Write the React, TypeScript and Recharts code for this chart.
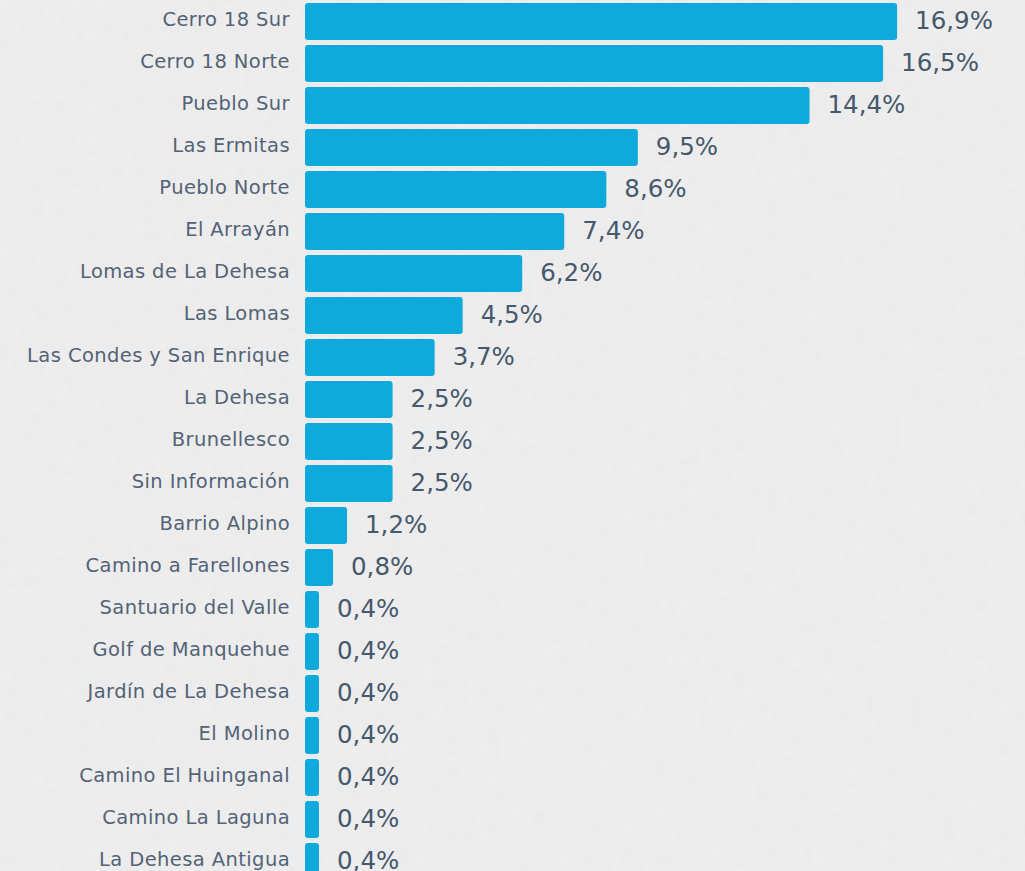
import { BarChart, Bar, XAxis, YAxis, LabelList } from 'recharts';

const barrios = [
  'Cerro 18 Sur',
  'Cerro 18 Norte',
  'Pueblo Sur',
  'Las Ermitas',
  'Pueblo Norte',
  'El Arrayán',
  'Lomas de La Dehesa',
  'Las Lomas',
  'Las Condes y San Enrique',
  'La Dehesa',
  'Brunellesco',
  'Sin Información',
  'Barrio Alpino',
  'Camino a Farellones',
  'Santuario del Valle',
  'Golf de Manquehue',
  'Jardín de La Dehesa',
  'El Molino',
  'Camino El Huinganal',
  'Camino La Laguna',
  'La Dehesa Antigua',
];

const porcentajes = [
  16.9, 16.5, 14.4, 9.5, 8.6, 7.4, 6.2, 4.5, 3.7, 2.5, 2.5, 2.5, 1.2, 0.8, 0.4, 0.4,
  0.4, 0.4, 0.4, 0.4, 0.4,
];

const data = barrios.map((name, i) => ({ name, value: porcentajes[i] }));

const fmt = (v: any) => `${Number(v).toFixed(1).replace('.', ',')}%`;

export default function App() {
  return (
    <div
      style={{
        position: 'fixed',
        top: 0,
        left: 0,
        width: 1025,
        height: 871,
        overflow: 'hidden',
        background: '#ececec',
        fontFamily: '"DejaVu Sans", sans-serif',
      }}
    >
      {/* paper texture */}
      <svg width={1025} height={871} style={{ position: 'absolute', top: 0, left: 0 }}>
        <filter id="paper">
          <feTurbulence type="fractalNoise" baseFrequency="0.09" numOctaves={3} seed={4} />
          <feColorMatrix
            type="matrix"
            values="0 0 0 0 0.55  0 0 0 0 0.55  0 0 0 0 0.55  0 0 0 0.35 0"
          />
        </filter>
        <rect width="100%" height="100%" fill="#efefef" />
        <rect width="100%" height="100%" filter="url(#paper)" opacity={0.35} />
      </svg>
      <div style={{ position: 'absolute', top: 0, left: 0 }}>
        <BarChart
          width={1025}
          height={882}
          data={data}
          layout="vertical"
          margin={{ top: 0, right: 0, bottom: 0, left: 0 }}
          barSize={37}
        >
          <XAxis type="number" domain={[0, 20.55]} hide />
          <YAxis
            type="category"
            dataKey="name"
            width={305}
            axisLine={false}
            tickLine={false}
            tickSize={0}
            tickMargin={15}
            interval={0}
            tick={{ fill: '#536376', fontSize: 19.5, letterSpacing: 0.4, dy: -1.5 }}
          />
          <Bar dataKey="value" fill="#0eaadc" radius={3} isAnimationActive={false}>
            <LabelList
              dataKey="value"
              position="right"
              offset={18}
              formatter={fmt}
              fill="#46586c"
              fontSize={24.5}
              dy={-1}
            />
          </Bar>
        </BarChart>
      </div>
    </div>
  );
}
